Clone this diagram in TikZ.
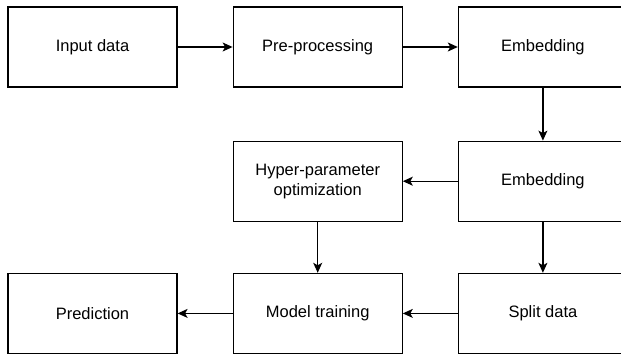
\documentclass[tikz,border=0pt]{standalone}
\usepackage{fontspec}
\setmainfont{Liberation Sans}
\usetikzlibrary{positioning,arrows.meta}
\tikzset{
  box/.style={draw, line width=1.2pt, minimum width=169pt, minimum height=80pt, align=center, inner sep=0pt, font=\fontsize{16.5}{20}\selectfont},
  arr/.style={-{Stealth[length=10pt,width=9pt,inset=2.5pt]}, line width=1.2pt}
}
\begin{document}
\begin{tikzpicture}[x=1pt,y=1pt]
    \useasboundingbox (0,0) rectangle (621,-356);
    % Top row
    \node[box] (input) at (92.5,-47) {Input data};
    \node[box, right=55pt of input] (prep) {Pre-processing};
    \node[box, right=55pt of prep] (embed) {Embedding};
    % Middle row
    \node[box, below=53pt of embed] (embedtwo) {Embedding};
    \node[box, left=55pt of embedtwo] (hyper) {Hyper-parameter\\optimization};
    % Bottom row
    \node[box, below=51pt of embedtwo] (split) {Split data};
    \node[box, left=55pt of split] (train) {Model training};
    \node[box, left=55pt of train] (pred) {Prediction};
    % Arrows
    \draw[arr] (input) -- (prep);
    \draw[arr] (prep) -- (embed);
    \draw[arr] (embed) -- (embedtwo);
    \draw[arr] (embedtwo) -- (hyper);
    \draw[arr] (embedtwo) -- (split);
    \draw[arr] (hyper) -- (train);
    \draw[arr] (split) -- (train);
    \draw[arr] (train) -- (pred);
\end{tikzpicture}
\end{document}
